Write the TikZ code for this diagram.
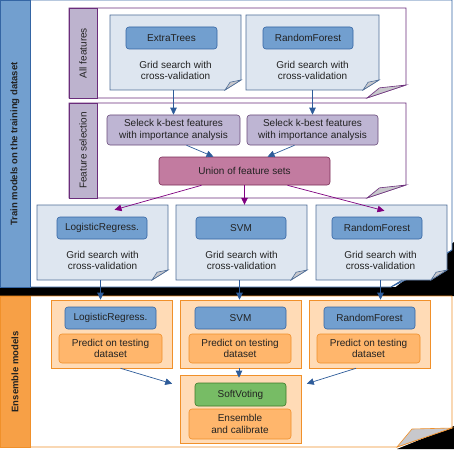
\documentclass[tikz,border=0pt]{standalone}
\usepackage{fontspec}
\setmainfont{Liberation Sans}
\usetikzlibrary{calc,arrows.meta}

\definecolor{panelblue}{HTML}{3465A4}
\definecolor{bandblue}{HTML}{729FCF}
\definecolor{panelorange}{HTML}{F0902A}
\definecolor{bandorange}{HTML}{F7A046}
\definecolor{grouppurple}{HTML}{6B2D7B}
\definecolor{bandlav}{HTML}{BDB3CE}
\definecolor{notefill}{HTML}{DEE6F0}
\definecolor{noteline}{HTML}{4F6E98}
\definecolor{selfill}{HTML}{BEB5D3}
\definecolor{selline}{HTML}{6B4C7B}
\definecolor{unionfill}{HTML}{C27BA0}
\definecolor{unionline}{HTML}{7B2C57}
\definecolor{flowblue}{HTML}{2E5C9A}
\definecolor{flowpurple}{HTML}{800080}
\definecolor{boxorange}{HTML}{FFDBB6}
\definecolor{predorange}{HTML}{FFB66C}
\definecolor{votegreen}{HTML}{77BC65}
\definecolor{voteline}{HTML}{3C7A28}
\definecolor{flapgrey}{HTML}{C8C8CC}
\definecolor{txt}{HTML}{222222}

% note with a folded corner: name, x1, y1, x2, y2, fold w, fold h, fill, line
\newcommand{\notebox}[9]{%
  \draw[#9,fill=#8,line width=0.7pt] (#2,#3) -- (#4,#3) -- (#4,#5-#7) -- (#4-#6,#5) -- (#2,#5) -- cycle;
  \draw[#9,fill=flapgrey,line width=0.6pt] (#4-#6,#5) -- (#4-0.68*#6,#5-0.78*#7) -- (#4,#5-#7) -- cycle;
  \node[inner sep=0pt,minimum width={#4-#2},minimum height={#5-#3}] (#1) at ({(#2+#4)/2},{(#3+#5)/2}) {};
}

\begin{document}
\begin{tikzpicture}[x=1pt,y=-1pt,
    every node/.style={font=\fontsize{10}{11.5}\selectfont,text=txt},
    bandtxt/.style={rotate=90,font=\fontsize{9.5}{11}\selectfont\bfseries},
    grouptxt/.style={rotate=90},
    modelbox/.style={draw=panelblue,fill=bandblue,rounded corners=3pt,line width=0.6pt,
      minimum width=90pt,minimum height=22pt,inner sep=0pt},
    selbox/.style={draw=selline,fill=selfill,rounded corners=3pt,line width=0.6pt,
      minimum height=30pt,inner sep=0pt,align=center},
    unionbox/.style={draw=unionline,fill=unionfill,rounded corners=3pt,line width=0.6pt,
      minimum width=171pt,minimum height=28pt,inner sep=0pt},
    obox/.style={draw=panelorange,fill=boxorange,line width=0.6pt,
      minimum width=121pt,minimum height=68pt,inner sep=0pt},
    predbox/.style={draw=panelorange,fill=predorange,rounded corners=3pt,line width=0.6pt,
      minimum width=103pt,minimum height=29pt,inner sep=0pt,align=center},
    votebox/.style={draw=voteline,fill=votegreen,rounded corners=3pt,line width=0.6pt,
      minimum width=91pt,minimum height=23pt,inner sep=0pt},
    blueflow/.style={flowblue,line width=0.7pt,-{Triangle[length=7pt,width=6.5pt]}},
    purpleflow/.style={flowpurple,line width=0.7pt,-{Triangle[length=7pt,width=6.5pt]}}]

  \useasboundingbox (0,0) rectangle (454,449);

  % shadows
  \fill[black] (0,287) rectangle (454,296);
  \fill[black] (384,296) -- (454,242) -- (454,296) -- cycle;
  \fill[black] (397,449) -- (454,426) -- (454,449) -- cycle;

  % top panel
  \draw[panelblue,fill=white,line width=0.8pt] (0,0) -- (452,0) -- (452,250) -- (391,287) -- (0,287) -- cycle;
  \draw[panelblue,fill=bandblue,line width=0.8pt] (0,0) rectangle (30,287);
  \draw[panelblue,fill=flapgrey,line width=0.6pt] (391,287) -- (412,277) -- (452,250) -- cycle;
  \node[bandtxt] (train) at (15,144) {Train models on the training dataset};

  % bottom panel
  \draw[panelorange,fill=white,line width=0.8pt] (0,296) -- (452,296) -- (452,428) -- (397,447) -- (0,447) -- cycle;
  \draw[panelorange,fill=bandorange,line width=0.8pt] (0,296) rectangle (30,447);
  \draw[panelorange,fill=flapgrey,line width=0.6pt] (397,447) -- (412,429) -- (452,428) -- cycle;
  \node[bandtxt] (ensmod) at (15,372) {Ensemble models};

  % all features
  \notebox{allf}{69}{8}{406}{98}{39}{13}{white}{grouppurple}
  \draw[grouppurple,fill=bandlav,line width=0.7pt] (69,8) rectangle (97,98);
  \node[grouptxt] (allftxt) at (83,53) {All features};
  \notebox{ntopL}{110}{15}{241}{90}{16}{10}{notefill}{noteline}
  \notebox{ntopR}{246}{15}{379}{90}{16}{10}{notefill}{noteline}
  \node[modelbox,minimum width=91pt] (et) at (171.5,38) {ExtraTrees};
  \node[modelbox] (rftop) at (308,38) {RandomForest};
  \node[align=center] (gsL) at (175.5,70.5) {Grid search with\\cross-validation};
  \node[align=center] (gsR) at (312.5,70.5) {Grid search with\\cross-validation};

  % feature selection
  \notebox{fsel}{69}{103}{406}{198}{39}{13}{white}{grouppurple}
  \draw[grouppurple,fill=bandlav,line width=0.7pt] (69,103) rectangle (97,198);
  \node[grouptxt] (fseltxt) at (83,150.5) {Feature selection};
  \node[selbox,minimum width=133pt] (selL) at (173.5,130) {Seleck k-best features\\with importance analysis};
  \node[selbox,minimum width=131pt] (selR) at (312.5,130) {Seleck k-best features\\with importance analysis};
  \node[unionbox] (union) at (244.5,171) {Union of feature sets};

  % models
  \notebox{nmodL}{37}{205}{168}{280}{16}{10}{notefill}{noteline}
  \notebox{nmodC}{176}{205}{307}{280}{16}{10}{notefill}{noteline}
  \notebox{nmodR}{316}{205}{447}{280}{16}{10}{notefill}{noteline}
  \node[modelbox] (lrtop) at (102,228) {LogisticRegress.};
  \node[modelbox] (svmtop) at (241,228) {SVM};
  \node[modelbox] (rfmid) at (377,228) {RandomForest};
  \node[align=center] (gsmL) at (102.5,260.5) {Grid search with\\cross-validation};
  \node[align=center] (gsmC) at (241.5,260.5) {Grid search with\\cross-validation};
  \node[align=center] (gsmR) at (380.5,260.5) {Grid search with\\cross-validation};

  % ensemble
  \node[obox] (obL) at (111.5,334) {};
  \node[obox] (obC) at (241,334) {};
  \node[obox] (obR) at (370,334) {};
  \node[obox] (ens) at (241,409) {};
  \node[modelbox,minimum width=91pt] (lrbot) at (110.5,318) {LogisticRegress.};
  \node[modelbox,minimum width=91pt] (svmbot) at (240.5,318) {SVM};
  \node[modelbox,minimum width=91pt] (rfbot) at (369.5,318) {RandomForest};
  \node[predbox] (predL) at (110.5,348.5) {Predict on testing\\dataset};
  \node[predbox,minimum width=102pt] (predC) at (240,348.5) {Predict on testing\\dataset};
  \node[predbox] (predR) at (368.5,348.5) {Predict on testing\\dataset};
  \node[votebox] (vote) at (240.5,394.5) {SoftVoting};
  \node[predbox,minimum width=102pt,minimum height=30pt] (calib) at (240,424) {Ensemble\\and calibrate};

  % arrows
  \draw[blueflow] (selL.north |- ntopL.south) -- (selL.north);
  \draw[blueflow] (selR.north |- ntopR.south) -- (selR.north);
  \draw[blueflow] ([xshift=13pt]selL.south) -- ([xshift=-31pt]union.north);
  \draw[blueflow] ([xshift=-18pt]selR.south) -- ([xshift=23pt]union.north);
  \draw[purpleflow] ([xshift=-43pt]union.south) -- ($(nmodL.north)+(12,5)$);
  \draw[purpleflow] (union.south) -- (union.south |- nmodC.north);
  \draw[purpleflow] ([xshift=43pt]union.south) -- ($(nmodR.north)+(3,6)$);
  \draw[blueflow] ([xshift=-2pt]nmodL.south) -- ([xshift=-2pt]nmodL.south |- obL.north);
  \draw[blueflow] ([xshift=-2pt]nmodC.south) -- ([xshift=-2pt]nmodC.south |- obC.north);
  \draw[blueflow] ([xshift=-1pt]nmodR.south) -- ([xshift=-1pt]nmodR.south |- obR.north);
  \draw[blueflow] ([xshift=9pt]obL.south) -- ($(ens.north west)+(-8,9)$);
  \draw[blueflow] ([xshift=-2pt]obC.south) -- ([xshift=-2pt,yshift=-3pt]ens.north);
  \draw[blueflow] ([xshift=-14pt]obR.south) -- ($(ens.north east)+(5,9)$);

\end{tikzpicture}
\end{document}
